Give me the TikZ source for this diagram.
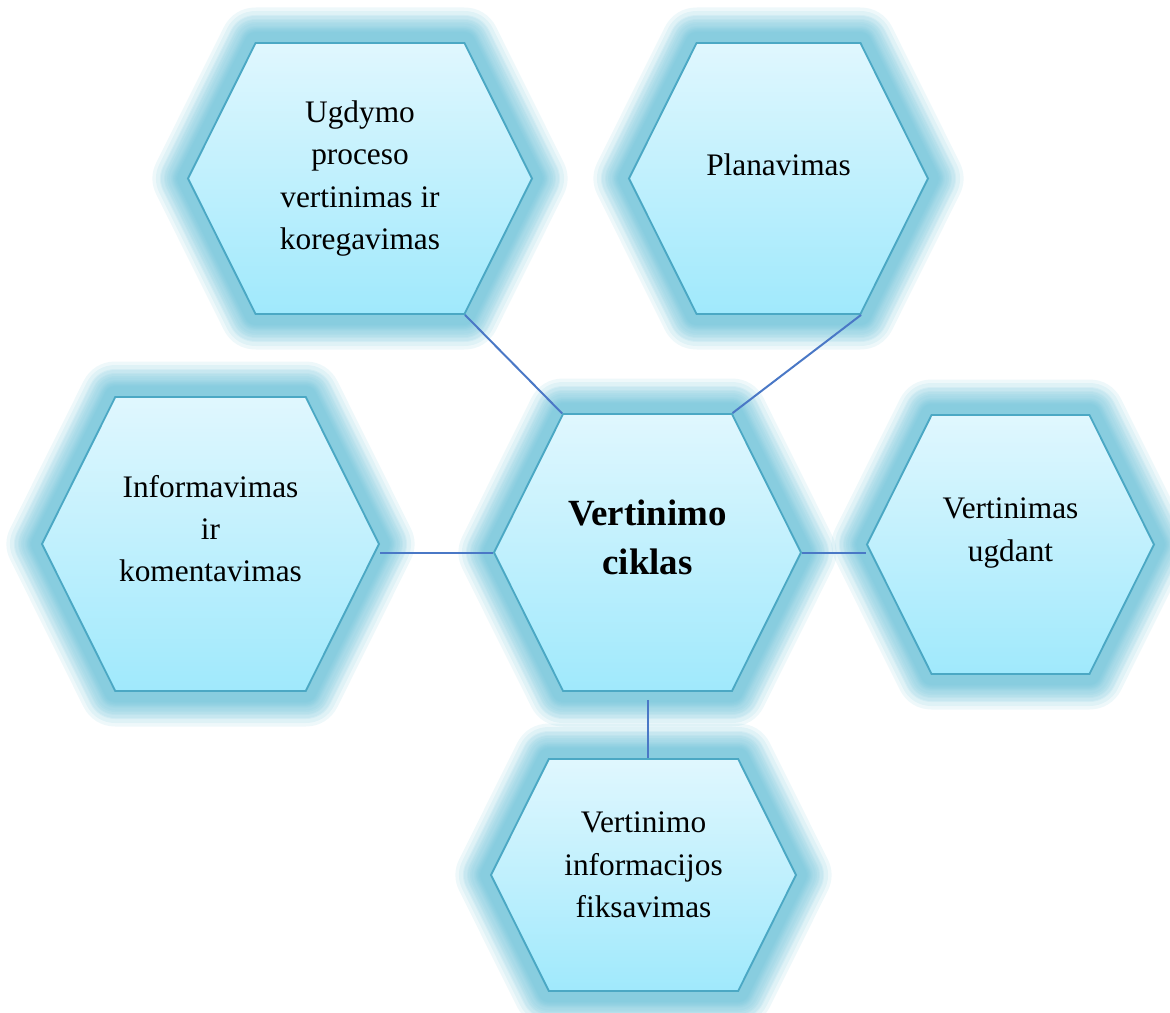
\documentclass[tikz,border=0pt]{standalone}
\usepackage{fontspec}
\setmainfont{Liberation Serif}
\usetikzlibrary{shapes.symbols}

\definecolor{hextop}{HTML}{E0F7FE}
\definecolor{hexbot}{HTML}{A0E9FC}
\definecolor{hexline}{HTML}{4BA8C4}
\definecolor{glowblue}{HTML}{7DC8DC}
\definecolor{linkblue}{HTML}{4A78C6}

\begin{document}
\begin{tikzpicture}[
    x=0.75pt, y=-0.75pt,
    glow step/.style={preaction={draw=glowblue, draw opacity=.13, line width=#1, line join=round}},
    hexcell/.style={signal, signal to=east and west, signal pointer angle=127,
        draw=hexline, line width=1.4pt, top color=hextop, bottom color=hexbot,
        glow step=53.25pt, glow step=48pt, glow step=42pt, glow step=40.5pt,
        glow step=36pt, glow step=34.5pt, glow step=31.5pt, glow step=29.25pt,
        glow step=25.5pt, glow step=24pt, glow step=22.5pt, glow step=21.75pt,
        glow step=20.25pt, glow step=19.5pt, glow step=18pt, glow step=17.25pt,
        glow step=16.5pt, glow step=15.75pt},
    hextext/.style={align=center, inner sep=0pt, font=\fontsize{23.5pt}{31.6pt}\selectfont},
    hexbold/.style={hextext, font=\fontsize{27.7pt}{37pt}\selectfont\bfseries},
    link/.style={draw=linkblue, line width=1.5pt},
]
    \useasboundingbox (0,0) rectangle (1170,1013);

    % Top row
    \node[hexcell, minimum width=258pt, minimum height=203.25pt,
        label={[hextext]center:{Ugdymo\\proceso\\vertinimas ir\\koregavimas}}]
        (koreg) at (360,178.5) {};
    \node[hexcell, minimum width=224.25pt, minimum height=203.25pt,
        label={[hextext, yshift=10.5pt]center:Planavimas}]
        (plan) at (778.5,178.5) {};

    % Middle row, the cycle itself in the centre
    \node[hexcell, minimum width=252.75pt, minimum height=220.5pt,
        label={[hextext, yshift=11.3pt]center:{Informavimas\\ir\\komentavimas}}]
        (info) at (210.5,544) {};
    \node[hexcell, minimum width=230.25pt, minimum height=207.75pt,
        label={[hexbold, yshift=11.6pt]center:{Vertinimo\\ciklas}}]
        (ciklas) at (647.5,552.5) {};
    \node[hexcell, minimum width=215.25pt, minimum height=194.25pt,
        label={[hextext, yshift=8.6pt]center:{Vertinimas\\ugdant}}]
        (ugdant) at (1010.5,544.5) {};

    % Bottom
    \node[hexcell, minimum width=228.75pt, minimum height=174pt,
        label={[hextext, yshift=7.6pt]center:{Vertinimo\\informacijos\\fiksavimas}}]
        (fiks) at (643.5,875) {};

    % Spokes
    \draw[link] (koreg.south east) -- (ciklas.north west);
    \draw[link] (plan.south east) -- (ciklas.north east);
    \draw[link] (ciklas.west) -- (ciklas.west -| info.east);
    \draw[link] (ciklas.east) -- (ciklas.east -| ugdant.west);
    \draw[link] ([yshift=-6pt]ciklas.south) -- (ciklas.south |- fiks.north);
\end{tikzpicture}
\end{document}
